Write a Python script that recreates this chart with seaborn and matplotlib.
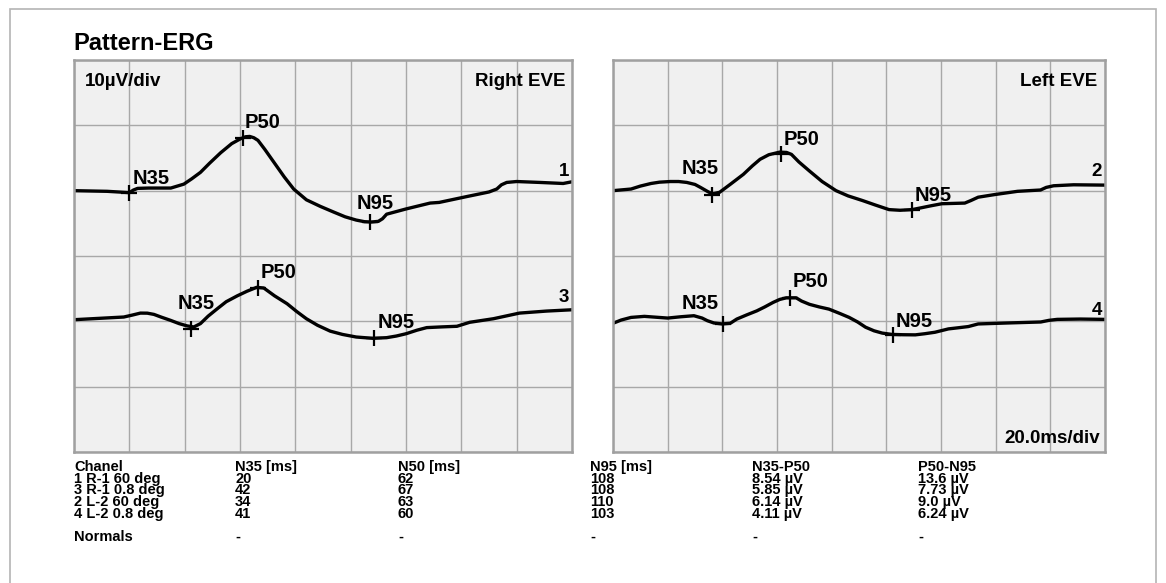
import numpy as np
import pandas as pd
import matplotlib
matplotlib.use('Agg')
import matplotlib.pyplot as plt
import seaborn as sns
from matplotlib.patches import Rectangle

# ---- traces, time in ms, amplitude in uV relative to the channel baseline ----
ch1_t = [0, 12, 20, 21.5, 23, 27, 35, 39.7, 42.5, 45.7, 49, 53, 57, 60, 62, 63.5, 65, 66.5, 69, 72,
         76, 79.4, 84, 89, 94, 98, 102, 105, 107.5, 110, 111.5, 113, 120, 128.7, 132, 142, 150,
         152.8, 154.5, 156.4, 160, 168.4, 176.8, 180]
ch1_v = [0, -0.1, -0.3, 0.1, 0.35, 0.4, 0.4, 1.0, 1.8, 2.8, 4.2, 5.8, 7.2, 7.9, 8.25, 8.3, 8.1, 7.7, 6.3, 4.5,
         2.1, 0.25, -1.4, -2.4, -3.3, -4.0, -4.5, -4.75, -4.8, -4.7, -4.3, -3.6, -2.8, -1.9, -1.8, -0.9, -0.2,
         0.25, 0.9, 1.26, 1.4, 1.26, 1.1, 1.36]

ch3_t = [0, 18, 21, 24, 26.5, 28.9, 31.5, 34.9, 38, 40.9, 43.3, 45.7, 48.5, 51.7, 55, 59, 62.5, 66, 68.6,
         72.5, 77, 80.5, 84, 88, 92.6, 97, 102, 108, 113, 116.5, 120, 124, 127.5, 133, 138.4, 143, 151.6,
         161, 170.8, 180]
ch3_v = [0.25, 0.66, 0.95, 1.26, 1.25, 1.06, 0.65, 0.15, -0.35, -0.7, -0.86, -0.35, 0.8, 1.9, 3.0, 3.9, 4.6, 5.2, 5.1,
         3.9, 2.7, 1.5, 0.4, -0.6, -1.5, -2.0, -2.4, -2.6, -2.5, -2.25, -1.9, -1.35, -0.96, -0.85, -0.76, -0.15, 0.4,
         1.26, 1.57, 1.77]

ch2_t = [0, 6.6, 10, 13.9, 17, 21, 24, 27, 30, 32, 34.5, 36.3, 39, 43, 47.7, 51, 53.8, 57, 61, 63.5, 65.3,
         68, 71.9, 76.5, 81.6, 86, 91.2, 96, 101, 105, 109.4, 113, 116.5, 120.3, 128.7, 131, 133.6, 139.6,
         148, 156.4, 158.5, 161.2, 168.5, 180]
ch2_v = [0, 0.25, 0.7, 1.1, 1.3, 1.4, 1.4, 1.26, 0.95, 0.5, -0.1, -0.5, -0.25, 1.0, 2.5, 3.8, 4.8, 5.5, 5.9, 5.85, 5.55,
         4.4, 3.0, 1.4, 0, -0.8, -1.5, -2.2, -2.9, -3.0, -2.9, -2.6, -2.3, -2.0, -1.9, -1.5, -1.0, -0.6,
         -0.1, 0.1, 0.5, 0.75, 0.9, 0.85]

ch4_t = [0, 3, 6.6, 11.5, 20, 24.8, 29.6, 32.6, 34.5, 36.9, 39.9, 42.9, 45.3, 49, 52.6, 55.5, 58.6, 61, 63.4,
         67, 69, 71.9, 75.5, 79, 83, 86.4, 89.5, 92.4, 95.5, 98.5, 102, 106, 110.6, 114, 117.8, 122.7, 126,
         130, 133.6, 144.5, 156.5, 159.5, 162.5, 171, 180]
ch4_v = [-0.3, 0.2, 0.6, 0.76, 0.5, 0.7, 0.86, 0.5, 0.1, -0.25, -0.4, -0.3, 0.35, 1.0, 1.6, 2.2, 2.9, 3.35, 3.6,
         3.6, 3.1, 2.6, 2.2, 1.87, 1.2, 0.6, -0.1, -0.9, -1.45, -1.8, -2.0, -2.05, -2.07, -1.9, -1.67, -1.16, -1.0,
         -0.8, -0.4, -0.25, -0.1, 0.15, 0.3, 0.35, 0.3]

# peak markers (N35, P50, N95)
peak_names = ['N35', 'P50', 'N95']
ch1_mark_t, ch1_mark_v = [20, 61, 107], [-0.35, 8.1, -4.8]
ch3_mark_t, ch3_mark_v = [42.3, 66.5, 108.6], [-1.1, 5.05, -2.6]
ch2_mark_t, ch2_mark_v = [36.3, 61.6, 109.4], [-0.6, 5.65, -3.0]
ch4_mark_t, ch4_mark_v = [40.2, 64.7, 102.4], [-0.4, 3.6, -2.07]

# ---- result table ----
table_header = ['Chanel', 'N35 [ms]', 'N50 [ms]', 'N95 [ms]', 'N35-P50', 'P50-N95']
row_names = ['1 R-1 60 deg', '3 R-1 0.8 deg', '2 L-2 60 deg', '4 L-2 0.8 deg']
n35_ms = ['20', '42', '34', '41']
n50_ms = ['62', '67', '63', '60']
n95_ms = ['108', '108', '110', '103']
amp_n35_p50 = ['8.54 µV', '5.85 µV', '6.14 µV', '4.11 µV']
amp_p50_n95 = ['13.6 µV', '7.73 µV', '9.0 µV', '6.24 µV']
normals = ['Normals', '-', '-', '-', '-', '-']

W, H = 1166, 583
sns.set_theme(style='whitegrid')
plt.rcParams['font.family'] = ['Liberation Sans', 'DejaVu Sans']
plt.rcParams['text.color'] = 'black'

fig = plt.figure(figsize=(W / 100, H / 100), dpi=100)
fig.patch.set_facecolor('white')

def fx(px):
    return px / W

def fy(py):
    return 1 - py / H

ax_l = fig.add_axes([fx(74), fy(452), (572 - 74) / W, (452 - 60) / H])
ax_r = fig.add_axes([fx(613), fy(452), (1105 - 613) / W, (452 - 60) / H])

for ax in (ax_l, ax_r):
    ax.set_facecolor('#f0f0f0')
    ax.set_xlim(0, 180)
    ax.set_ylim(0, 60)
    ax.set_xticks(np.arange(0, 181, 20))
    ax.set_yticks(np.arange(0, 61, 10))
    ax.set_xticklabels([])
    ax.set_yticklabels([])
    ax.tick_params(length=0)
    ax.grid(True, color='#a8a8a8', linewidth=1.0)
    for s in ax.spines.values():
        s.set_visible(True)
        s.set_color('#a0a0a0')
        s.set_linewidth(1.8)

channels = [
    (ax_l, '1', 40, ch1_t, ch1_v, ch1_mark_t, ch1_mark_v, [(3, 9), (2, 10), (-13, 13)], 6),
    (ax_l, '3', 20, ch3_t, ch3_v, ch3_mark_t, ch3_mark_v, [(-13, 20), (3, 10), (3, 10)], 8),
    (ax_r, '2', 40, ch2_t, ch2_v, ch2_mark_t, ch2_mark_v, [(-31, 21), (2, 9), (3, 9)], 9),
    (ax_r, '4', 20, ch4_t, ch4_v, ch4_mark_t, ch4_mark_v, [(-41, 15), (3, 11), (3, 8)], 4),
]

for ax, num, base, t, v, mt, mv, offs, num_dy in channels:
    df = pd.DataFrame({'t': t, 'v': np.array(v) + base})
    sns.lineplot(data=df, x='t', y='v', ax=ax, color='black', linewidth=2.4,
                 estimator=None, sort=False, solid_joinstyle='round', solid_capstyle='round')
    my = np.array(mv) + base
    ax.plot(mt, my, linestyle='none', marker='+', color='black',
            markersize=12, markeredgewidth=1.6, zorder=5)
    for name, x0, y0, (dx, dy) in zip(peak_names, mt, my, offs):
        ax.annotate(name, (x0, y0), xytext=(dx, dy), textcoords='offset pixels',
                    ha='left', va='baseline', fontsize=14.5, fontweight='bold', color='black')
    ax.annotate(num, (180, v[-1] + base), xytext=(-3, num_dy), textcoords='offset pixels',
                ha='right', va='baseline', fontsize=13.5, fontweight='bold', color='black')
    ax.set_xlabel('')
    ax.set_ylabel('')

ax_l.text(0.022, 0.968, '10µV/div', transform=ax_l.transAxes, ha='left', va='top',
          fontsize=13.5, fontweight='bold', color='black')
ax_l.text(0.986, 0.968, 'Right EVE', transform=ax_l.transAxes, ha='right', va='top',
          fontsize=13.5, fontweight='bold', color='black')
ax_r.text(0.984, 0.968, 'Left EVE', transform=ax_r.transAxes, ha='right', va='top',
          fontsize=13.5, fontweight='bold', color='black')
ax_r.text(0.99, 0.013, '20.0ms/div', transform=ax_r.transAxes, ha='right', va='bottom',
          fontsize=13.5, fontweight='bold', color='black')

fig.text(fx(73), fy(50), 'Pattern-ERG', ha='left', va='baseline', fontsize=17,
         fontweight='bold', color='black')

# table
col_x = [74, 235, 398, 590, 752, 918]
columns = [row_names, n35_ms, n50_ms, n95_ms, amp_n35_p50, amp_p50_n95]
row_base = 471
row_step = 11.7
for cx, head, vals, norm in zip(col_x, table_header, columns, normals):
    for i, txt in enumerate([head] + vals):
        fig.text(fx(cx), fy(row_base + row_step * i), txt, ha='left', va='baseline',
                 fontsize=10.5, fontweight='bold', color='black')
    fig.text(fx(cx), fy(541), norm, ha='left', va='baseline', fontsize=10.5,
             fontweight='bold', color='black')

# outer frame
fig.patches.append(Rectangle((fx(10), -0.05), (1156 - 10) / W, fy(9) + 0.05,
                             transform=fig.transFigure, fill=False,
                             edgecolor='#b4b4b4', linewidth=1.2))

fig.savefig('out.png', dpi=100)
